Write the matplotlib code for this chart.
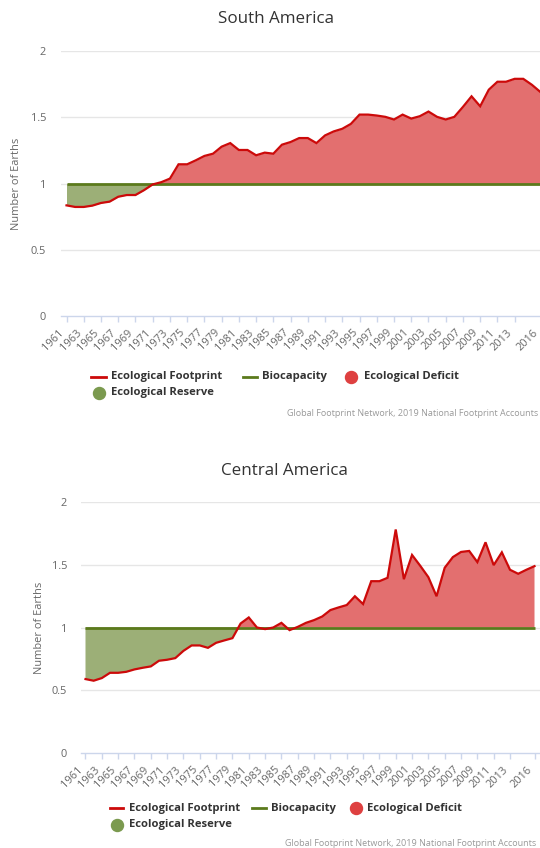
import matplotlib
matplotlib.use("Agg")
import matplotlib.pyplot as plt
from matplotlib.lines import Line2D
import numpy as np

# ---------------- data ----------------
years = list(range(1961, 2017))

sa_footprint = [0.835, 0.823, 0.823, 0.833, 0.853, 0.863, 0.900, 0.913, 0.913, 0.950,
                0.993, 1.010, 1.037, 1.145, 1.145, 1.175, 1.208, 1.225, 1.278, 1.305,
                1.253, 1.253, 1.213, 1.233, 1.225, 1.293, 1.313, 1.343, 1.343, 1.305,
                1.363, 1.393, 1.413, 1.450, 1.520, 1.520, 1.513, 1.503, 1.483, 1.520,
                1.490, 1.508, 1.543, 1.503, 1.483, 1.503, 1.578, 1.658, 1.583, 1.708,
                1.768, 1.768, 1.790, 1.790, 1.745, 1.690]
sa_biocapacity = [1.0, 1.0, 1.0, 1.0, 1.0, 1.0, 1.0, 1.0, 1.0, 1.0,
                  1.0, 1.0, 1.0, 1.0, 1.0, 1.0, 1.0, 1.0, 1.0, 1.0,
                  1.0, 1.0, 1.0, 1.0, 1.0, 1.0, 1.0, 1.0, 1.0, 1.0,
                  1.0, 1.0, 1.0, 1.0, 1.0, 1.0, 1.0, 1.0, 1.0, 1.0,
                  1.0, 1.0, 1.0, 1.0, 1.0, 1.0, 1.0, 1.0, 1.0, 1.0,
                  1.0, 1.0, 1.0, 1.0, 1.0, 1.0]

ca_footprint = [0.589, 0.576, 0.597, 0.639, 0.639, 0.647, 0.666, 0.679, 0.690, 0.735,
                0.743, 0.756, 0.814, 0.857, 0.857, 0.838, 0.878, 0.897, 0.915, 1.032,
                1.080, 1.000, 0.987, 1.000, 1.037, 0.979, 1.005, 1.037, 1.059, 1.088,
                1.139, 1.160, 1.179, 1.249, 1.187, 1.369, 1.369, 1.396, 1.781, 1.385,
                1.578, 1.492, 1.401, 1.249, 1.476, 1.561, 1.602, 1.610, 1.521, 1.679,
                1.497, 1.599, 1.460, 1.428, 1.460, 1.489]
ca_biocapacity = [1.0, 1.0, 1.0, 1.0, 1.0, 1.0, 1.0, 1.0, 1.0, 1.0,
                  1.0, 1.0, 1.0, 1.0, 1.0, 1.0, 1.0, 1.0, 1.0, 1.0,
                  1.0, 1.0, 1.0, 1.0, 1.0, 1.0, 1.0, 1.0, 1.0, 1.0,
                  1.0, 1.0, 1.0, 1.0, 1.0, 1.0, 1.0, 1.0, 1.0, 1.0,
                  1.0, 1.0, 1.0, 1.0, 1.0, 1.0, 1.0, 1.0, 1.0, 1.0,
                  1.0, 1.0, 1.0, 1.0, 1.0, 1.0]

tick_years = [1961, 1963, 1965, 1967, 1969, 1971, 1973, 1975, 1977, 1979, 1981, 1983,
              1985, 1987, 1989, 1991, 1993, 1995, 1997, 1999, 2001, 2003, 2005, 2007,
              2009, 2011, 2013, 2016]
y_ticks = [0, 0.5, 1, 1.5, 2]
y_tick_labels = ["0", "0.5", "1", "1.5", "2"]

titles = ["South America", "Central America"]
legend_labels = ["Ecological Footprint", "Biocapacity", "Ecological Deficit", "Ecological Reserve"]
credit_text = "Global Footprint Network, 2019 National Footprint Accounts"
y_title = "Number of Earths"

# ---------------- style ----------------
W, H = 540, 848
FONT = "Open Sans"
C_FP = "#cc0a0a"
C_BIO = "#5b7a1c"
C_DEF_FILL = "#e36f6f"
C_RES_FILL = "#9caf77"
C_DEF_DOT = "#de4040"
C_RES_DOT = "#7b9a4f"
C_GRID = "#e6e6e6"
C_AXIS = "#ccd6eb"

def px(v):  # pixels -> points
    return v * 72 / 100

fig = plt.figure(figsize=(W / 100, H / 100), dpi=100)
fig.patch.set_facecolor("white")

def fx(x):
    return x / W

def fy(y):
    return 1 - y / H

def make_chart(fp, bio, title, left, right, top, bottom, x1961, x2016,
               title_x, title_y, ylab_x, ypad, leg, credit):
    ax = fig.add_axes([fx(left), fy(bottom), (right - left) / W, (bottom - top) / H])
    scale = (x2016 - x1961) / 55.0
    ax.set_xlim(1961 - (x1961 - left) / scale, 2016 + (right - x2016) / scale)
    ax.set_ylim(0, 2)
    yrs = np.array(years, dtype=float)
    f = np.array(fp)
    b = np.array(bio)
    ax.fill_between(yrs, b, f, where=f >= b, interpolate=True, color=C_DEF_FILL, lw=0, zorder=2)
    ax.fill_between(yrs, b, f, where=f <= b, interpolate=True, color=C_RES_FILL, lw=0, zorder=2)
    ax.plot(yrs, b, color=C_BIO, lw=2.0, zorder=3, solid_capstyle="butt")
    ax.plot(yrs, f, color=C_FP, lw=1.6, zorder=4, solid_joinstyle="miter")
    for s in ["top", "left", "right"]:
        ax.spines[s].set_visible(False)
    ax.spines["bottom"].set_color(C_AXIS)
    ax.spines["bottom"].set_linewidth(1)
    ax.spines["bottom"].set_zorder(1)
    ax.set_yticks(y_ticks)
    ax.set_yticklabels(y_tick_labels)
    ax.set_xticks(tick_years)
    ax.set_xticklabels([str(t) for t in tick_years], rotation=45, ha="right", va="top",
                       rotation_mode="default")
    ax.tick_params(axis="y", length=0, pad=px(ypad), labelsize=px(11), labelcolor="#666666")
    ax.tick_params(axis="x", length=px(6), width=1, color=C_AXIS, direction="out",
                   pad=px(5), labelsize=px(11), labelcolor="#666666")
    for lab in ax.get_xticklabels():
        lab.set_fontfamily(FONT)
    for lab in ax.get_yticklabels():
        lab.set_fontfamily(FONT)
    for yv in [0.5, 1, 1.5, 2]:
        ax.axhline(yv, color=C_GRID, lw=1, zorder=0)
    ax.set_facecolor("none")
    # title
    fig.text(fx(title_x), fy(title_y), title, ha="center", va="center",
             fontsize=px(17), color="#333333", family=FONT)
    # y axis title
    fig.text(fx(ylab_x), fy((top + bottom) / 2), y_title, rotation=90, ha="center",
             va="center", fontsize=px(11), color="#666666", family=FONT)
    # legend (manual, Highcharts-style layout)
    (r1, r2, fp_line, fp_tx, bio_line, bio_tx, def_dot, def_tx, res_dot, res_tx) = leg
    fs_leg = px(11.3)
    fig.add_artist(Line2D([fx(fp_line[0]), fx(fp_line[1])], [fy(r1), fy(r1)],
                          color=C_FP, lw=2, transform=fig.transFigure))
    fig.text(fx(fp_tx), fy(r1), legend_labels[0], ha="left", va="center",
             fontsize=fs_leg, fontweight="bold", color="#333333", family=FONT)
    fig.add_artist(Line2D([fx(bio_line[0]), fx(bio_line[1])], [fy(r1), fy(r1)],
                          color=C_BIO, lw=2, transform=fig.transFigure))
    fig.text(fx(bio_tx), fy(r1), legend_labels[1], ha="left", va="center",
             fontsize=fs_leg, fontweight="bold", color="#333333", family=FONT)
    fig.add_artist(Line2D([fx(def_dot)], [fy(r1)], marker="o", ms=px(12), color=C_DEF_DOT,
                          lw=0, transform=fig.transFigure))
    fig.text(fx(def_tx), fy(r1), legend_labels[2], ha="left", va="center",
             fontsize=fs_leg, fontweight="bold", color="#333333", family=FONT)
    fig.add_artist(Line2D([fx(res_dot)], [fy(r2)], marker="o", ms=px(12), color=C_RES_DOT,
                          lw=0, transform=fig.transFigure))
    fig.text(fx(res_tx), fy(r2), legend_labels[3], ha="left", va="center",
             fontsize=fs_leg, fontweight="bold", color="#333333", family=FONT)
    cx, cy, cha = credit
    fig.text(fx(cx), fy(cy), credit_text, ha=cha, va="center", fontsize=px(9),
             color="#999999", family=FONT)
    return ax

make_chart(sa_footprint, sa_biocapacity, titles[0],
           left=61, right=548, top=51, bottom=316, x1961=66.5, x2016=540.5,
           title_x=276, title_y=19, ylab_x=17, ypad=15,
           leg=(376.5, 393, (91, 106), 111, (243, 257), 262, 351, 364, 99, 111),
           credit=(538, 413, "right"))

make_chart(ca_footprint, ca_biocapacity, titles[1],
           left=81, right=540, top=502, bottom=753, x1961=85.5, x2016=534.5,
           title_x=284, title_y=471, ylab_x=40, ypad=14,
           leg=(808, 825, (110, 123), 129, (252, 266), 271, 356, 367, 117, 129),
           credit=(536, 843, "right"))

fig.savefig("out.png", dpi=100, facecolor="white")
